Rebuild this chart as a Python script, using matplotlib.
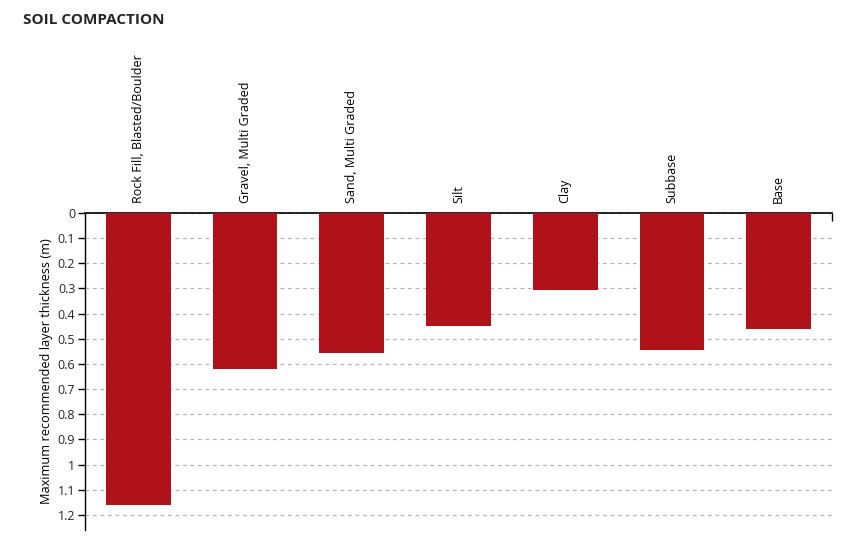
import matplotlib
matplotlib.use('Agg')
import matplotlib.pyplot as plt
from matplotlib.ticker import FixedLocator

categories = ['Rock Fill, Blasted/Boulder', 'Gravel, Multi Graded', 'Sand, Multi Graded',
              'Silt', 'Clay', 'Subbase', 'Base']
thickness = [1.16, 0.62, 0.555, 0.45, 0.305, 0.545, 0.46]
tick_values = [i / 10 for i in range(13)]
tick_labels = ['0', '0.1', '0.2', '0.3', '0.4', '0.5', '0.6', '0.7', '0.8', '0.9', '1', '1.1', '1.2']

plt.rcParams['font.family'] = ['Open Sans', 'DejaVu Sans']

fig = plt.figure(figsize=(8.5, 5.51), dpi=100)
ax = fig.add_axes([85 / 850, 1 - 530 / 551, 747 / 850, 317 / 551])

x = list(range(len(categories)))
ax.bar(x, thickness, width=0.606, color='#AF1219', zorder=3)

ax.set_xlim(-0.5, len(categories) - 0.5)
ax.set_ylim(1.26, 0)
ax.set_yticks(tick_values)
ax.set_yticklabels(tick_labels)

ax.xaxis.tick_top()
ax.set_xticks(x)
ax.set_xticklabels(categories, rotation=90, fontsize=9)
ax.tick_params(axis='x', which='major', length=0, pad=7)
ax.xaxis.set_minor_locator(FixedLocator([len(categories) - 0.5]))
ax.tick_params(axis='x', which='minor', top=True, direction='in', length=6, width=1)
ax.tick_params(axis='y', length=5, width=1, labelsize=9, pad=2)
for lbl in ax.get_yticklabels():
    lbl.set_color('#262626')

ax.grid(axis='y', linestyle=(0, (3, 3)), color='#B5B5B5', linewidth=0.9, zorder=0)
for s in ['right', 'bottom']:
    ax.spines[s].set_visible(False)
ax.spines['top'].set_linewidth(1.2)
ax.spines['left'].set_linewidth(1.0)

ax.set_ylabel('Maximum recommended layer thickness (m)', fontsize=9.2, labelpad=3)

fig.text(23 / 850, 1 - 20 / 551, 'SOIL COMPACTION', fontsize=11, fontweight='bold',
         va='center', ha='left', color='#262626')

fig.savefig('out.png', dpi=100)
